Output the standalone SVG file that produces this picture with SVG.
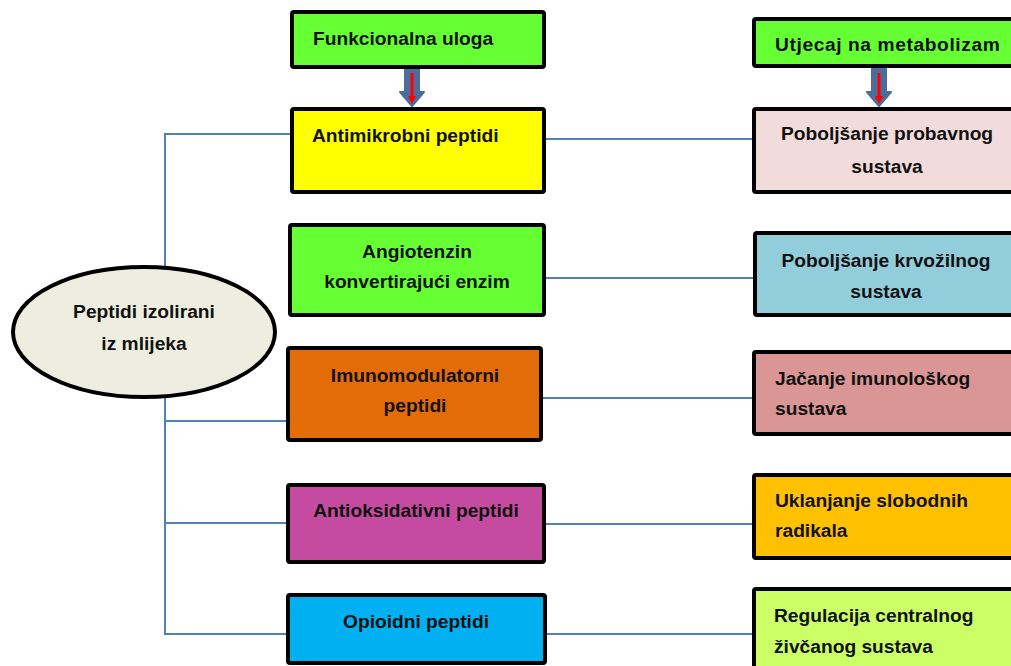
<svg xmlns="http://www.w3.org/2000/svg" width="1011" height="666" viewBox="0 0 1011 666">
<style>
.box{stroke:#000;stroke-width:4;stroke-linejoin:round}
.t{font-family:"Liberation Sans",Arial,sans-serif;font-weight:bold;font-size:19.2px;fill:#111}
.c{text-anchor:middle}
.con{stroke:#4F81BD;stroke-width:2;fill:none}
.arr{fill:#4A6D9C;stroke:#4A6D9C;stroke-width:2;stroke-linejoin:round}
.red{stroke:#FF0000;stroke-width:3}
</style>
<rect width="1011" height="666" fill="#fff"/>
<g id="connectors">
<path class="con" d="M165,266 V134 H292"/>
<path class="con" d="M165,397 V634 H288"/>
<path class="con" d="M165,421 H288"/>
<path class="con" d="M165,523 H288"/>
<path class="con" d="M544,139 H754"/>
<path class="con" d="M544,278 H755"/>
<path class="con" d="M541,398 H754"/>
<path class="con" d="M544,524 H754"/>
<path class="con" d="M545,634 H754"/>
<g id="arrow1">
<path class="arr" d="M405,68 H419 V92 H424 L412,106 L400,92 H405 Z"/>
<line class="red" x1="412" y1="73" x2="412" y2="97"/>
<path d="M408,96 H416 L412,104 Z" fill="#FF0000"/>
</g>
<g id="arrow2">
<path class="arr" d="M872,68 H886 V92 H891 L879,106 L867,92 H872 Z"/>
<line class="red" x1="879" y1="73" x2="879" y2="97"/>
<path d="M875,96 H883 L879,104 Z" fill="#FF0000"/>
</g>
</g>
<g id="root">
<ellipse cx="144" cy="332" rx="131" ry="65" fill="#EEEEE0" stroke="#000" stroke-width="4"/>
<text class="t c" x="144" y="318">Peptidi izolirani</text>
<text class="t c" x="144" y="350">iz mlijeka</text>
</g>
<g id="funkcionalna">
<rect class="box" x="292" y="12" width="252" height="55" rx="2" fill="#66FF33"/>
<text class="t" x="313" y="45">Funkcionalna uloga</text>
</g>
<g id="antimikrobni">
<rect class="box" x="292" y="109" width="252" height="83" rx="2" fill="#FFFF00"/>
<text class="t" x="312" y="142">Antimikrobni peptidi</text>
</g>
<g id="angiotenzin">
<rect class="box" x="290" y="225" width="254" height="90" rx="2" fill="#66FF33"/>
<text class="t c" x="417" y="258">Angiotenzin</text>
<text class="t c" x="417" y="288">konvertirajući enzim</text>
</g>
<g id="imunomodulatorni">
<rect class="box" x="288" y="348" width="253" height="92" rx="2" fill="#E36C09"/>
<text class="t c" x="415" y="382">Imunomodulatorni</text>
<text class="t c" x="415" y="412">peptidi</text>
</g>
<g id="antioksidativni">
<rect class="box" x="288" y="485" width="256" height="77" rx="2" fill="#C54BA0"/>
<text class="t c" x="416" y="517">Antioksidativni peptidi</text>
</g>
<g id="opioidni">
<rect class="box" x="288" y="595" width="257" height="68" rx="2" fill="#00B0F0"/>
<text class="t c" x="416" y="628">Opioidni peptidi</text>
</g>
<g id="utjecaj">
<rect class="box" x="754" y="19" width="270" height="47" rx="2" fill="#66FF33"/>
<text class="t" x="775" y="51" letter-spacing="0.6">Utjecaj na metabolizam</text>
</g>
<g id="probavnog">
<rect class="box" x="754" y="109" width="270" height="83" rx="2" fill="#F2DCDB"/>
<text class="t c" x="887" y="140">Poboljšanje probavnog</text>
<text class="t c" x="887" y="173">sustava</text>
</g>
<g id="krvozilnog">
<rect class="box" x="755" y="233" width="270" height="82" rx="2" fill="#92CDDC"/>
<text class="t c" x="886" y="267">Poboljšanje krvožilnog</text>
<text class="t c" x="886" y="298">sustava</text>
</g>
<g id="imunoloskog">
<rect class="box" x="754" y="352" width="270" height="82" rx="2" fill="#D99694"/>
<text class="t" x="775" y="385">Jačanje imunološkog</text>
<text class="t" x="775" y="415">sustava</text>
</g>
<g id="radikala">
<rect class="box" x="754" y="475" width="270" height="83" rx="2" fill="#FFC000"/>
<text class="t" x="775" y="507">Uklanjanje slobodnih</text>
<text class="t" x="775" y="537">radikala</text>
</g>
<g id="regulacija">
<rect class="box" x="754" y="589" width="270" height="80" rx="2" fill="#CCFF66"/>
<text class="t" x="774" y="622">Regulacija centralnog</text>
<text class="t" x="774" y="653">živčanog sustava</text>
</g>
</svg>
